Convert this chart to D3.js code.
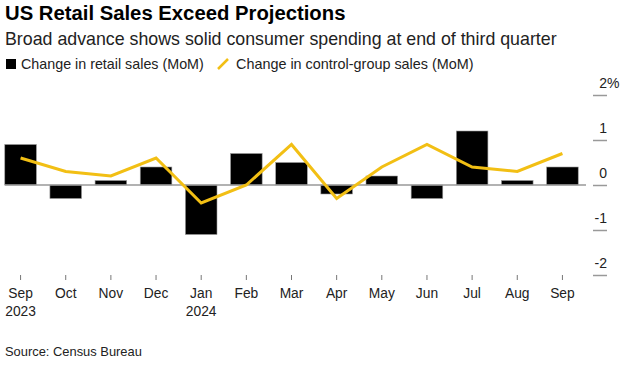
<!DOCTYPE html>
<html>
<head>
<meta charset="utf-8">
<script src="https://cdn.jsdelivr.net/npm/d3@7"></script>
<style>
  html, body { margin: 0; padding: 0; background: #fff; }
  svg { display: block; font-family: "Liberation Sans", Arial, sans-serif; }
</style>
</head>
<body>
<svg id="chart" width="627" height="366"></svg>
<script>
const months = ["Sep","Oct","Nov","Dec","Jan","Feb","Mar","Apr","May","Jun","Jul","Aug","Sep"];
const years  = ["2023","","","","2024","","","","","","","",""];
const retailSales  = [0.9, -0.3, 0.1, 0.4, -1.1, 0.7, 0.5, -0.2, 0.2, -0.3, 1.2, 0.1, 0.4];
const controlGroup = [0.6, 0.3, 0.2, 0.6, -0.4, 0.0, 0.9, -0.3, 0.4, 0.9, 0.4, 0.3, 0.7];
const yTicks = [-2, -1, 0, 1, 2];

const svg = d3.select("#chart");
const idx = months.map((m, i) => i);

const x = d3.scaleBand().domain(idx).range([-2, 585]).paddingInner(0.3).paddingOuter(0.15);
const y = d3.scaleLinear().domain([-2, 2]).range([275, 95]);

// Title block
svg.append("text").attr("x", 5).attr("y", 20)
  .attr("font-size", 20.3).attr("font-weight", "bold").attr("fill", "#000")
  .text("US Retail Sales Exceed Projections");
svg.append("text").attr("x", 5).attr("y", 45)
  .attr("font-size", 17.8).attr("fill", "#222")
  .text("Broad advance shows solid consumer spending at end of third quarter");

// Legend
svg.append("rect").attr("x", 6).attr("y", 59).attr("width", 10).attr("height", 10).attr("fill", "#000");
svg.append("text").attr("x", 21).attr("y", 69).attr("font-size", 14.3).attr("fill", "#222")
  .text("Change in retail sales (MoM)");
svg.append("line").attr("x1", 218).attr("y1", 69).attr("x2", 228).attr("y2", 59)
  .attr("stroke", "#f2bf14").attr("stroke-width", 2.5);
svg.append("text").attr("x", 236).attr("y", 69).attr("font-size", 14.4).attr("fill", "#222")
  .text("Change in control-group sales (MoM)");

// Bars
svg.append("g").selectAll("rect").data(retailSales).join("rect")
  .attr("x", (d, i) => x(i))
  .attr("width", x.bandwidth())
  .attr("y", d => y(Math.max(0, d)))
  .attr("height", d => Math.abs(y(d) - y(0)))
  .attr("fill", "#000")
  .attr("stroke", "#9a9a9a").attr("stroke-width", 0.6);

// Zero line
svg.append("line")
  .attr("x1", x(0)).attr("x2", 586)
  .attr("y1", y(0)).attr("y2", y(0))
  .attr("stroke", "#999").attr("stroke-width", 1.5);

// Line series
const line = d3.line().x((d, i) => x(i) + x.bandwidth() / 2).y(d => y(d));
svg.append("path").datum(controlGroup)
  .attr("d", line).attr("fill", "none")
  .attr("stroke", "#f2bf14").attr("stroke-width", 3).attr("stroke-linejoin", "miter");

// Right axis
const yAxis = d3.axisRight(y).tickValues(yTicks).tickSize(14).tickFormat(d => d);
const ya = svg.append("g").attr("transform", "translate(593,0)").call(yAxis);
ya.select(".domain").remove();
ya.selectAll(".tick line").attr("stroke", "#999").attr("stroke-width", 1.5);
ya.selectAll(".tick text").attr("x", 14).attr("dy", "-8").attr("text-anchor", "end")
  .attr("font-size", 14).attr("font-family", "Liberation Sans, Arial, sans-serif").attr("fill", "#222");
ya.selectAll(".tick").filter(d => d === 2).append("text")
  .attr("x", 14).attr("y", 0).attr("dy", "-8").attr("text-anchor", "start")
  .attr("font-size", 14).attr("font-family", "Liberation Sans, Arial, sans-serif").attr("fill", "#222")
  .text("%");

// Bottom axis
const xAxis = d3.axisBottom(x).tickSize(5).tickFormat(i => months[i]);
const xa = svg.append("g").attr("transform", "translate(0,275)").call(xAxis);
xa.select(".domain").remove();
xa.selectAll(".tick line").attr("stroke", "#777").attr("stroke-width", 1);
xa.selectAll(".tick text").attr("y", 23).attr("dy", 0)
  .attr("font-size", 13.8).attr("font-family", "Liberation Sans, Arial, sans-serif").attr("fill", "#222");
xa.selectAll(".tick").filter(i => years[i] !== "").append("text")
  .attr("y", 41).attr("text-anchor", "middle")
  .attr("font-size", 13.8).attr("font-family", "Liberation Sans, Arial, sans-serif").attr("fill", "#222")
  .text(i => years[i]);

// Source
svg.append("text").attr("x", 5).attr("y", 356).attr("font-size", 12.9).attr("fill", "#222")
  .text("Source: Census Bureau");
</script>
</body>
</html>
